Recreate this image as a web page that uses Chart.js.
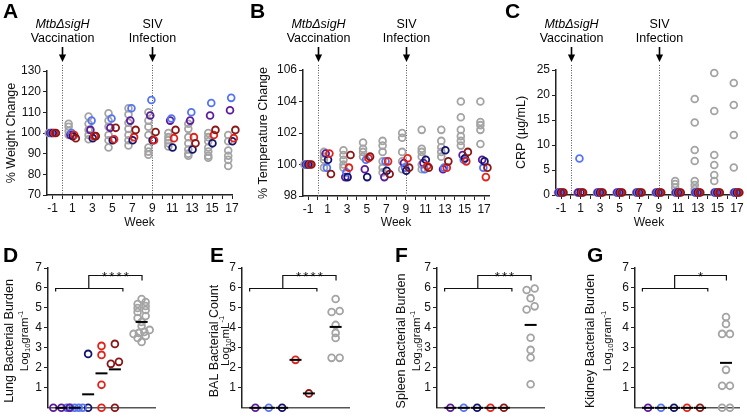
<!DOCTYPE html>
<html>
<head>
<meta charset="utf-8">
<script src="https://cdn.jsdelivr.net/npm/chart.js@4.4.1/dist/chart.umd.min.js"></script>
<style>
  body { margin: 0; background: #fff; }
  #fig { position: relative; width: 747px; height: 417px; overflow: hidden; }
  #fig canvas { position: absolute; }
</style>
</head>
<body>
<div id="fig">
  <canvas id="chartA" width="245" height="232" style="left:0;top:0"></canvas>
  <canvas id="chartB" width="250" height="232" style="left:245px;top:0"></canvas>
  <canvas id="chartC" width="257" height="232" style="left:490px;top:0"></canvas>
  <canvas id="chartD" width="185" height="177" style="left:0;top:240px"></canvas>
  <canvas id="chartE" width="185" height="177" style="left:185px;top:240px"></canvas>
  <canvas id="chartF" width="185" height="177" style="left:370px;top:240px"></canvas>
  <canvas id="chartG" width="192" height="177" style="left:555px;top:240px"></canvas>
</div>
<script>
// ---- data ----
const weeks = [-1, 1, 3, 5, 7, 9, 11, 13, 15, 17];

// A: % weight change
const weightGrey = [[100], [104.5, 103, 101, 99], [108, 104.5, 101.5, 99, 97], [109.5, 106, 103, 99, 96.5, 93],
  [112, 109, 105, 102, 99, 96.5, 94], [110, 106, 103, 99, 93, 91, 89.5], [100, 98, 96.5, 95, 93.5],
  [104.5, 102, 98, 95, 92, 90, 89], [100, 98, 96, 93, 91, 89, 88], [99, 96, 91.5, 89, 87, 84]];
const weightPurple = [100, 99, 101.5, 102.5, 106, 108.5, 106, 106, 108.5, 111];
const weightBlue = [100, 100, 106, 107, 112, 116, 107, 110, 114.5, 117];
const weightNavy = [100, 98.5, 97.5, 96.5, 96.5, 96.5, 93, 92, 95, 96];
const weightRed = [100, 99, 98.5, 97, 98, 96.5, 97.5, 98, 99, 97.5];
const weightDarkRed = [100, 97.5, 98.5, 102.5, 101.5, 100.5, 101.5, 95, 101.5, 101.5];

// B: % temperature change
const tempGrey = [[100], [100.8, 100.5, 100.3, 99.8], [100.9, 100.6, 100.3, 100, 99.8], [101.4, 101, 100.8, 100.5],
  [101.5, 101.2, 100.8, 100.2, 99.8, 99.5], [102, 101.7, 100.8, 100.2, 99.7], [102.2, 101, 100.8, 100.5, 100, 99.7],
  [102.2, 101.5, 101.1, 100.8, 100.5], [104, 103, 102.2, 101.8, 101.5, 101.2], [104, 102.7, 102.5, 102.2, 101.3]];
const tempPurple = [100, 100.7, 99.2, 99.7, 99.2, 100.1, 100.1, 99.7, 100.6, 100.3];
const tempBlue = [100, 99.8, 99.5, 100.3, 100.2, 99.8, 99.7, 99.8, 100.3, 99.8];
const tempNavy = [100, 100.3, 99.2, 99.2, 99.6, 99.6, 100.3, 100.9, 100.4, 100.2];
const tempRed = [100, 100.7, 99.8, 100.4, 100.2, 100.4, 99.9, 99.8, 100.2, 99.2];
const tempDarkRed = [100, 99.4, 100.6, 100.5, 99.4, 99.8, 99.8, 100.2, 100.8, 99.8];

// C: CRP (ug/mL)
const crpGrey = [[0.5], [0.5], [0.5], [0.5], [0.5], [0.5], [2.8, 2.2, 1.5, 0.5],
  [19.2, 14.5, 9, 6.8, 2.8, 2, 1.2, 0.5], [24.4, 16.8, 8, 6, 4, 2.8, 0.5], [22.4, 18, 12, 5.5, 0.5]];
const crpPurple = [0.5, 0.5, 0.5, 0.5, 0.5, 0.5, 0.5, 0.5, 0.5, 0.5];
const crpBlue = [0.5, 7.3, 0.5, 0.5, 0.5, 0.5, 0.5, 0.5, 0.5, 0.5];
const crpNavy = [0.5, 0.5, 0.5, 0.5, 0.5, 0.5, 0.5, 0.5, 0.5, 0.5];
const crpRed = [0.5, 0.5, 0.5, 0.5, 0.5, 0.5, 0.5, 0.5, 0.5, 0.5];
const crpDarkRed = [0.5, 0.5, 0.5, 0.5, 0.5, 0.5, 0.5, 0.5, 0.5, 0.5];

// D-G: bacterial burden, log10 (purple, blue, navy, red, dark red, unvaccinated grey)
const lungPurple = [0, 0, 0];
const lungBlue = [0, 0, 0, 0, 0];
const lungNavy = [2.7, 0];
const lungRed = [2.65, 3.1, 1.15, 0];
const lungDarkRed = [3.2, 2.3, 2.2, 0];
const lungGrey = [5.45, 5.3, 5.2, 5.1, 5.0, 4.9, 4.8, 4.6, 4.5, 4.3, 4.1, 3.9, 3.8, 3.75, 3.7, 3.6, 3.5, 3.3];
const lungMeans = [0, 0, 0.675, 1.725, 1.925, 4.3];

const balPurple = [0];
const balBlue = [0];
const balNavy = [0];
const balRed = [2.4];
const balDarkRed = [0.72];
const balGrey = [5.45, 4.85, 4.8, 4.15, 3.75, 3.5, 2.5, 2.5];
const balMeans = [0, 0, 0, 2.4, 0.72, 4.05];

const spleenPurple = [0];
const spleenBlue = [0];
const spleenNavy = [0];
const spleenRed = [0];
const spleenDarkRed = [0];
const spleenGrey = [5.97, 5.9, 5.49, 5.08, 4.92, 3.51, 2.9, 2.52, 1.18];
const spleenMeans = [0, 0, 0, 0, 0, 4.15];

const kidneyPurple = [0];
const kidneyBlue = [0];
const kidneyNavy = [0];
const kidneyRed = [0];
const kidneyDarkRed = [0];
const kidneyGrey = [4.55, 4.2, 3.7, 3.7, 1.9, 1.1, 1.1, 0, 0];
const kidneyMeans = [0, 0, 0, 0, 0, 2.25];

// ---- styling ----
const FONT = '"Liberation Sans", Arial, Helvetica, sans-serif';
Chart.defaults.font.family = FONT;
Chart.defaults.font.size = 12;
Chart.defaults.color = '#111';
Chart.defaults.animation = false;
Chart.defaults.plugins.legend.display = false;
Chart.defaults.plugins.tooltip.enabled = false;

const colors = {
  grey: '#a4a4a4',
  purple: '#5c1b9c',
  blue: '#5574f3',
  navy: '#14136c',
  red: '#e0231b',
  darkred: '#8a1717',
};
const AXIS = '#222';

function pointSet(data, color) {
  return {
    data: data,
    pointRadius: 3.4,
    pointHoverRadius: 3.4,
    pointBorderWidth: 1.8,
    pointBorderColor: color,
    pointBackgroundColor: 'rgba(255,255,255,0)',
    clip: false,
  };
}

// panel letter (A..G)
const letterPlugin = {
  id: 'letter',
  afterDraw(chart, args, opts) {
    const ctx = chart.ctx;
    ctx.save();
    ctx.font = 'bold 21px ' + FONT;
    ctx.fillStyle = '#000';
    ctx.textBaseline = 'alphabetic';
    ctx.fillText(opts.text, opts.x, opts.y);
    ctx.restore();
  },
};

// vaccination / infection markers on the time course panels
const events = [
  { week: 0, lines: ['Mtb\u0394sigH', 'Vaccination'], italic: [true, false] },
  { week: 9, lines: ['SIV', 'Infection'], italic: [false, false] },
];
const eventPlugin = {
  id: 'events',
  beforeDatasetsDraw(chart) {
    const { ctx, chartArea, scales } = chart;
    ctx.save();
    ctx.strokeStyle = '#555';
    ctx.lineWidth = 1;
    ctx.setLineDash([1, 1.5]);
    events.forEach((ev) => {
      const x = Math.round(scales.x.getPixelForValue(ev.week)) + 0.5;
      ctx.beginPath();
      ctx.moveTo(x, 65);
      ctx.lineTo(x, chartArea.bottom);
      ctx.stroke();
    });
    ctx.restore();
  },
  afterDraw(chart) {
    const { ctx, scales } = chart;
    ctx.save();
    ctx.fillStyle = '#000';
    ctx.strokeStyle = '#000';
    ctx.textAlign = 'center';
    ctx.textBaseline = 'middle';
    events.forEach((ev) => {
      const x = Math.round(scales.x.getPixelForValue(ev.week)) + 0.5;
      ev.lines.forEach((t, i) => {
        ctx.font = (ev.italic[i] ? 'italic ' : '') + '12.5px ' + FONT;
        ctx.fillText(t, x, 24.5 + i * 14.5);
      });
      // arrow
      ctx.lineWidth = 1.6;
      ctx.beginPath();
      ctx.moveTo(x, 47);
      ctx.lineTo(x, 56);
      ctx.stroke();
      ctx.beginPath();
      ctx.moveTo(x - 3.6, 54.5);
      ctx.lineTo(x + 3.6, 54.5);
      ctx.lineTo(x, 62);
      ctx.closePath();
      ctx.fill();
    });
    ctx.restore();
  },
};

// significance bracket on the burden panels
const bracketPlugin = {
  id: 'bracket',
  afterDatasetsDraw(chart, args, opts) {
    const { ctx } = chart;
    const x = chart.scales.x, y = chart.scales.y;
    const px = (v) => x.getPixelForValue(v);
    const py = (v) => Math.round(y.getPixelForValue(v)) + 0.5;
    ctx.save();
    ctx.strokeStyle = '#111';
    ctx.lineWidth = 1.2;
    ctx.beginPath();
    ctx.moveTo(px(0.57), py(5.83));
    ctx.lineTo(px(0.57), py(6));
    ctx.lineTo(px(5.6), py(6));
    ctx.lineTo(px(5.6), py(5.83));
    ctx.moveTo(px(3.05), py(6));
    ctx.lineTo(px(3.05), py(6.63));
    ctx.lineTo(px(7.03), py(6.63));
    ctx.lineTo(px(7.03), py(6.38));
    ctx.stroke();
    // asterisks, spaced out a little
    ctx.fillStyle = '#111';
    ctx.font = '13px ' + FONT;
    ctx.textAlign = 'center';
    ctx.textBaseline = 'alphabetic';
    const n = opts.stars.length;
    for (let i = 0; i < n; i++) {
      ctx.fillText('*', px(5.04) + (i - (n - 1) / 2) * 7.2, py(6.63) + 5);
    }
    ctx.restore();
  },
};

// two line y title with Log10 and ^-1
const yTitlePlugin = {
  id: 'ytitle',
  afterDraw(chart, args, opts) {
    const ctx = chart.ctx;
    ctx.save();
    ctx.fillStyle = '#111';
    ctx.translate(opts.x1, opts.cy);
    ctx.rotate(-Math.PI / 2);
    ctx.textBaseline = 'middle';
    ctx.textAlign = 'center';
    ctx.font = '12.5px ' + FONT;
    ctx.fillText(opts.line1, 0, 0);
    ctx.restore();

    // second line: "Log" + sub "10" + unit + sup "-1"
    const big = '11.5px ' + FONT, small = '7.5px ' + FONT;
    const parts = [
      { t: 'Log', f: big, dy: 0 },
      { t: '10', f: small, dy: 3 },
      { t: opts.unit, f: big, dy: 0 },
      { t: '-1', f: small, dy: -4.5 },
    ];
    let w = 0;
    parts.forEach((p) => { ctx.font = p.f; p.w = ctx.measureText(p.t).width; w += p.w; });
    ctx.save();
    ctx.fillStyle = '#111';
    ctx.translate(opts.x2, opts.cy);
    ctx.rotate(-Math.PI / 2);
    ctx.textBaseline = 'middle';
    ctx.textAlign = 'left';
    let cx = -w / 2;
    parts.forEach((p) => {
      ctx.font = p.f;
      ctx.fillText(p.t, cx, p.dy);
      cx += p.w;
    });
    ctx.restore();
  },
};

// ---- time course panels (A-C) ----
const groupOffsets = { grey: -0.38, purple: -0.2, blue: -0.08, navy: 0.04, red: 0.18, darkred: 0.34 };
const crpOffsets = { grey: -0.32, purple: -0.25, blue: -0.12, navy: 0, red: 0.12, darkred: 0.25 };

function timeSets(grey, groups, offs) {
  let sets = [];
  Object.keys(groups).forEach((name) => {
    sets.push(pointSet(groups[name].map((v, i) => ({ x: weeks[i] + offs[name], y: v })), colors[name]));
  });
  sets.reverse(); // dark red ends up on top
  let greyPts = [];
  grey.forEach((vals, i) => vals.forEach((v) => greyPts.push({ x: weeks[i] + offs.grey, y: v })));
  sets.push(pointSet(greyPts, colors.grey));
  return sets;
}

function timeChart(id, cfg) {
  return new Chart(document.getElementById(id), {
    type: 'scatter',
    data: { datasets: cfg.datasets },
    options: {
      responsive: false,
      events: [],
      layout: { padding: { left: 0, top: cfg.top, right: cfg.right, bottom: 0 } },
      scales: {
        x: {
          type: 'linear',
          min: cfg.xMin,
          max: cfg.xMax,
          afterFit: (s) => { s.height = cfg.xHeight; },
          ticks: {
            stepSize: 1,
            includeBounds: false,
            autoSkip: false,
            maxRotation: 0,
            padding: 2,
            callback: (v) => (Math.abs(v % 2) === 1 ? String(v) : ''),
          },
          grid: { drawOnChartArea: false, tickLength: 4, color: AXIS, tickWidth: 1 },
          border: { color: AXIS, width: 1.5 },
          title: { display: true, text: 'Week', font: { size: 12 }, padding: { top: 0, bottom: 2 } },
        },
        y: {
          min: cfg.yMin,
          max: cfg.yMax,
          afterFit: (s) => { s.width = cfg.yWidth; },
          ticks: { stepSize: cfg.yStep, padding: 2 },
          grid: { drawOnChartArea: false, tickLength: 4, color: AXIS, tickWidth: 1 },
          border: { color: AXIS, width: 1.5 },
          title: { display: true, text: cfg.yTitle, font: { size: 12.5 }, padding: { top: cfg.titlePad, bottom: 0 } },
        },
      },
      plugins: { letter: cfg.letter },
    },
    plugins: [eventPlugin, letterPlugin],
  });
}

timeChart('chartA', {
  datasets: timeSets(weightGrey, { purple: weightPurple, blue: weightBlue, navy: weightNavy, red: weightRed, darkred: weightDarkRed }, groupOffsets),
  top: 71, right: 13, xHeight: 37, yWidth: 47, titlePad: 4,
  xMin: -1.55, xMax: 17, yMin: 70, yMax: 130, yStep: 10,
  yTitle: '% Weight Change',
  letter: { text: 'A', x: 3, y: 18 },
});

timeChart('chartB', {
  datasets: timeSets(tempGrey, { purple: tempPurple, blue: tempBlue, navy: tempNavy, red: tempRed, darkred: tempDarkRed }, groupOffsets),
  top: 70, right: 6, xHeight: 36, yWidth: 58, titlePad: 11,
  xMin: -1.52, xMax: 17.5, yMin: 98, yMax: 106, yStep: 2,
  yTitle: '% Temperature Change',
  letter: { text: 'B', x: 5, y: 18 },
});

timeChart('chartC', {
  datasets: timeSets(crpGrey, { purple: crpPurple, blue: crpBlue, navy: crpNavy, red: crpRed, darkred: crpDarkRed }, crpOffsets),
  top: 70, right: 4, xHeight: 37, yWidth: 66, titlePad: 24,
  xMin: -1.52, xMax: 17.5, yMin: 0, yMax: 25, yStep: 5,
  yTitle: 'CRP (\u00b5g/mL)',
  letter: { text: 'C', x: 15, y: 18 },
});

// ---- burden panels (D-G) ----
const columnNames = ['purple', 'blue', 'navy', 'red', 'darkred', 'grey'];
const columnX = [1, 2, 3, 4, 5, 7];

// spread tied values sideways, like a scatter dot plot
function spread(vals, cx) {
  const s = vals.slice().sort((a, b) => a - b);
  let out = [];
  let i = 0;
  while (i < s.length) {
    let j = i;
    while (j + 1 < s.length && s[j + 1] - s[i] <= 0.2) j++;
    const m = j - i + 1;
    const w = m > 1 ? Math.min(0.6, 1.2 / (m - 1)) : 0;
    for (let k = 0; k < m; k++) out.push({ x: cx + (k - (m - 1) / 2) * w, y: s[i + k] });
    i = j + 1;
  }
  return out;
}

function burdenChart(id, cfg) {
  let sets = [{
    data: cfg.means.map((m, i) => ({ x: columnX[i], y: m })),
    pointStyle: 'line',
    pointRadius: 6,
    pointHoverRadius: 6,
    pointBorderWidth: 2,
    pointBorderColor: '#000',
    clip: false,
  }];
  cfg.groups.forEach((vals, i) => sets.push(pointSet(spread(vals, columnX[i]), colors[columnNames[i]])));
  return new Chart(document.getElementById(id), {
    type: 'scatter',
    data: { datasets: sets },
    options: {
      responsive: false,
      events: [],
      layout: { padding: { left: 0, top: 28, right: cfg.right, bottom: 0 } },
      scales: {
        x: {
          type: 'linear',
          min: 0,
          max: 8,
          afterFit: (s) => { s.height = 6; },
          ticks: { display: false },
          grid: { display: false },
          border: { color: '#555', width: 1.5 },
        },
        y: {
          min: 0,
          max: 7,
          afterFit: (s) => { s.width = cfg.yWidth; },
          ticks: { stepSize: 1, padding: 2, callback: (v) => (v === 0 ? '' : String(v)) },
          grid: {
            drawOnChartArea: false,
            tickLength: 4,
            tickWidth: 1,
            color: (c) => (c.tick && c.tick.value === 0 ? 'rgba(0,0,0,0)' : AXIS),
          },
          border: { color: AXIS, width: 1.5 },
        },
      },
      plugins: {
        letter: cfg.letter,
        bracket: { stars: cfg.stars },
        ytitle: cfg.title,
      },
    },
    plugins: [bracketPlugin, yTitlePlugin, letterPlugin],
  });
}

burdenChart('chartD', {
  groups: [lungPurple, lungBlue, lungNavy, lungRed, lungDarkRed, lungGrey],
  means: lungMeans, yWidth: 48, right: 30, stars: '****',
  title: { line1: 'Lung Bacterial Burden', unit: 'gram', x1: 10, x2: 25, cy: 101 },
  letter: { text: 'D', x: 3, y: 22 },
});

burdenChart('chartE', {
  groups: [balPurple, balBlue, balNavy, balRed, balDarkRed, balGrey],
  means: balMeans, yWidth: 57, right: 21, stars: '****',
  title: { line1: 'BAL Bacterial Count', unit: 'mL', x1: 30, x2: 41, cy: 101 },
  letter: { text: 'E', x: 25, y: 22 },
});

burdenChart('chartF', {
  groups: [spleenPurple, spleenBlue, spleenNavy, spleenRed, spleenDarkRed, spleenGrey],
  means: spleenMeans, yWidth: 67, right: 11, stars: '***',
  title: { line1: 'Spleen Bacterial Burden', unit: 'gram', x1: 32, x2: 47, cy: 101 },
  letter: { text: 'F', x: 25, y: 22 },
});

burdenChart('chartG', {
  groups: [kidneyPurple, kidneyBlue, kidneyNavy, kidneyRed, kidneyDarkRed, kidneyGrey],
  means: kidneyMeans, yWidth: 80, right: 5, stars: '*',
  title: { line1: 'Kidney Bacterial Burden', unit: 'gram', x1: 36, x2: 53, cy: 101 },
  letter: { text: 'G', x: 32, y: 22 },
});
</script>
</body>
</html>
